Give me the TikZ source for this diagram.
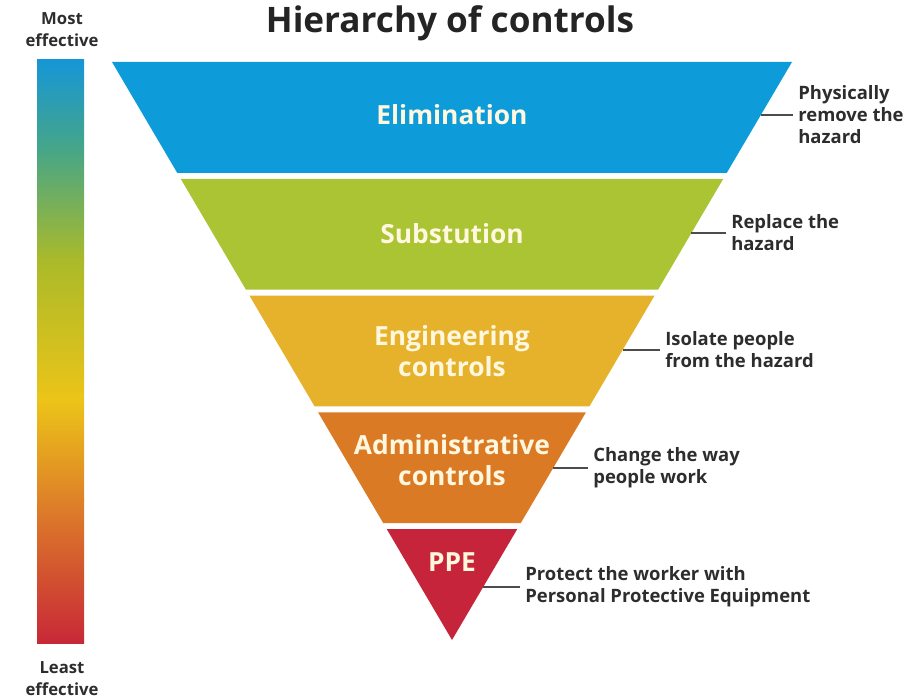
\documentclass[tikz,border=0pt]{standalone}
\usepackage{fontspec}
\setmainfont{Open Sans}
\usetikzlibrary{positioning}

\definecolor{elimblue}{RGB}{14,155,218}
\definecolor{subgreen}{RGB}{170,196,52}
\definecolor{enggold}{RGB}{230,178,44}
\definecolor{admorange}{RGB}{219,122,36}
\definecolor{ppered}{RGB}{198,36,58}
\definecolor{labelcream}{RGB}{255,247,222}
\definecolor{notegray}{RGB}{45,45,45}
\definecolor{barblue}{RGB}{22,150,215}
\definecolor{barteal}{RGB}{70,166,135}
\definecolor{barolive}{RGB}{170,186,42}
\definecolor{baryellow}{RGB}{236,196,24}
\definecolor{barorange}{RGB}{222,130,40}
\definecolor{barred}{RGB}{200,40,55}

\tikzset{
  bandlabel/.style={text=labelcream, font=\bfseries\fontsize{15}{18}\selectfont, align=center},
  note/.style={text=notegray, font=\bfseries\fontsize{10.5}{12.5}\selectfont, align=left, anchor=west, inner sep=0pt},
  ticker/.style={draw=notegray!85, line width=0.8pt, shorten >=3pt},
  sidelabel/.style={text=notegray, font=\bfseries\fontsize{9.5}{12.5}\selectfont, align=center},
}

\begin{document}
\begin{tikzpicture}[x=0.02cm, y=-0.02cm]

  \useasboundingbox (0,0) rectangle (920,699);

  % Colour bar on the left
  \foreach \ya/\yb/\ca/\cb in {60/150/barblue/barteal, 149.5/260/barteal/barolive,
      259.5/400/barolive/baryellow, 399.5/500/baryellow/barorange, 499.5/643/barorange/barred} {
    \shade[top color=\ca, bottom color=\cb] (37,\ya) rectangle (84,\yb);
  }

  \node[sidelabel] (most) at (62,30) {Most\\effective};
  \node[sidelabel] (least) at (62,679) {Least\\effective};

  % Title
  \node[text=notegray!80!black, font=\bfseries\fontsize{20}{24}\selectfont] (title) at (450,23) {Hierarchy of controls};

  % The five bands of the inverted triangle
  \foreach \i/\col in {0/elimblue, 1/subgreen, 2/enggold, 3/admorange, 4/ppered} {
    \pgfmathsetmacro{\yt}{62+116.8*\i} % top of band
    \pgfmathsetmacro{\yb}{\yt+110.8}   % bottom of band
    \pgfmathsetmacro{\wt}{(640-\yt)/578*340}
    \pgfmathsetmacro{\wb}{max(0,(640-\yb)/578*340)}
    \fill[\col] ({452-\wt},\yt) -- ({452+\wt},\yt) -- ({452+\wb},\yb) -- ({452-\wb},\yb) -- cycle;
  }

  \node[bandlabel] (elim) at (452,115) {Elimination};
  \node[bandlabel] (subst) at (452,234) {Substution};
  \node[bandlabel] (eng) at (452,351) {Engineering\\controls};
  \node[bandlabel] (admin) at (452,460) {Administrative\\controls};
  \node[bandlabel] (ppe) at (452,562) {PPE};

  % Notes on the right, joined to the edge of each band
  \coordinate (edge1) at (761,115);
  \coordinate (edge2) at (691,233);
  \coordinate (edge3) at (623,350);
  \coordinate (edge4) at (553,468);
  \coordinate (edge5) at (483,587);

  \node[note] (note1) at (798,115) {Physically\\remove the\\hazard};
  \node[note] (note2) at (731,233) {Replace the\\hazard};
  \node[note] (note3) at (665,350) {Isolate people\\from the hazard};
  \node[note] (note4) at (593,468) {Change the way\\people work};
  \node[note] (note5) at (525,587) {Protect the worker with\\Personal Protective Equipment};

  \foreach \k in {1,...,5} {
    \draw[ticker] (edge\k) -- (note\k.west);
  }

\end{tikzpicture}
\end{document}
